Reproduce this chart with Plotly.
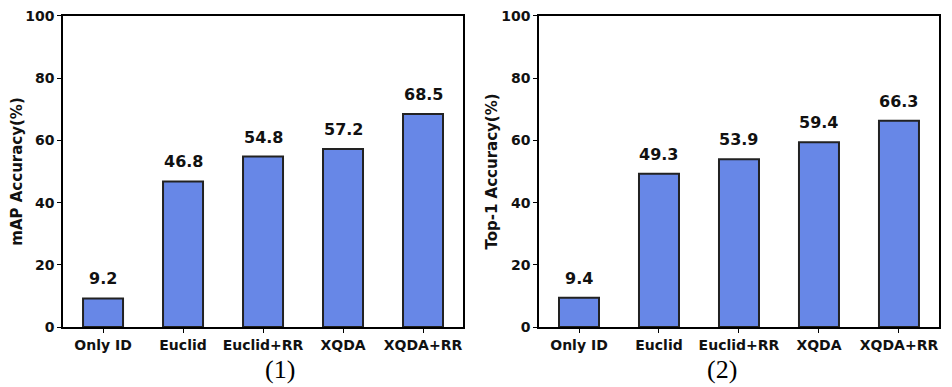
import plotly.graph_objects as go
from plotly.subplots import make_subplots

methods = ['Only ID', 'Euclid', 'Euclid+RR', 'XQDA', 'XQDA+RR']
map_acc = [9.2, 46.8, 54.8, 57.2, 68.5]
top1_acc = [9.4, 49.3, 53.9, 59.4, 66.3]
y_titles = ['mAP Accuracy(%)', 'Top-1 Accuracy(%)']
captions = ['(1)', '(2)']

bar_color = '#6787e7'
edge_color = '#222222'
tick_font = dict(family='DejaVu Sans', size=14, color='#111111', weight='bold')
label_font = dict(family='DejaVu Sans', size=16, color='#111111', weight='bold')

fig = make_subplots(rows=1, cols=2)

for i, vals in enumerate([map_acc, top1_acc]):
    fig.add_trace(go.Bar(
        x=methods,
        y=vals,
        marker=dict(color=bar_color, line=dict(color=edge_color, width=2)),
        width=0.5,
        showlegend=False,
    ), row=1, col=i + 1)
    for m, v in zip(methods, vals):
        fig.add_annotation(
            x=m, y=v, text=f'{v:.1f}', showarrow=False, yanchor='bottom',
            yshift=8, font=label_font, row=1, col=i + 1,
        )

# page is drawn with an 8px body margin, so the figure is 944x379
domains = [[0.0583, 0.4820], [0.5625, 0.9862]]
ydom = [0.1583, 0.9789]
for i in range(2):
    n = '' if i == 0 else '2'
    fig.layout['xaxis' + n].update(
        domain=domains[i], showline=True, linecolor='black', linewidth=1.5, mirror=True,
        ticks='outside', ticklen=4, tickcolor='black', tickfont=tick_font,
        showgrid=False, automargin=False,
    )
    fig.layout['yaxis' + n].update(
        domain=ydom, range=[0, 100], dtick=20, showline=True, linecolor='black',
        linewidth=1.5, mirror=True, ticks='outside', ticklen=4, tickcolor='black',
        tickfont=tick_font, showgrid=False, zeroline=False, automargin=False,
        ticklabeloverflow='allow',
        title=dict(text=y_titles[i], font=dict(family='DejaVu Sans', size=15,
                                               color='#111111', weight='bold'), standoff=0),
    )
    fig.add_annotation(
        text=captions[i], xref='paper', yref='paper',
        x=(domains[i][0] + domains[i][1]) / 2, y=0.045, yanchor='middle',
        showarrow=False, font=dict(family='Liberation Serif', size=26, color='black'),
    )

fig.update_layout(
    width=944, height=379,
    margin=dict(l=0, r=0, t=0, b=0),
    plot_bgcolor='white', paper_bgcolor='white',
)

fig.write_html('out.html')
